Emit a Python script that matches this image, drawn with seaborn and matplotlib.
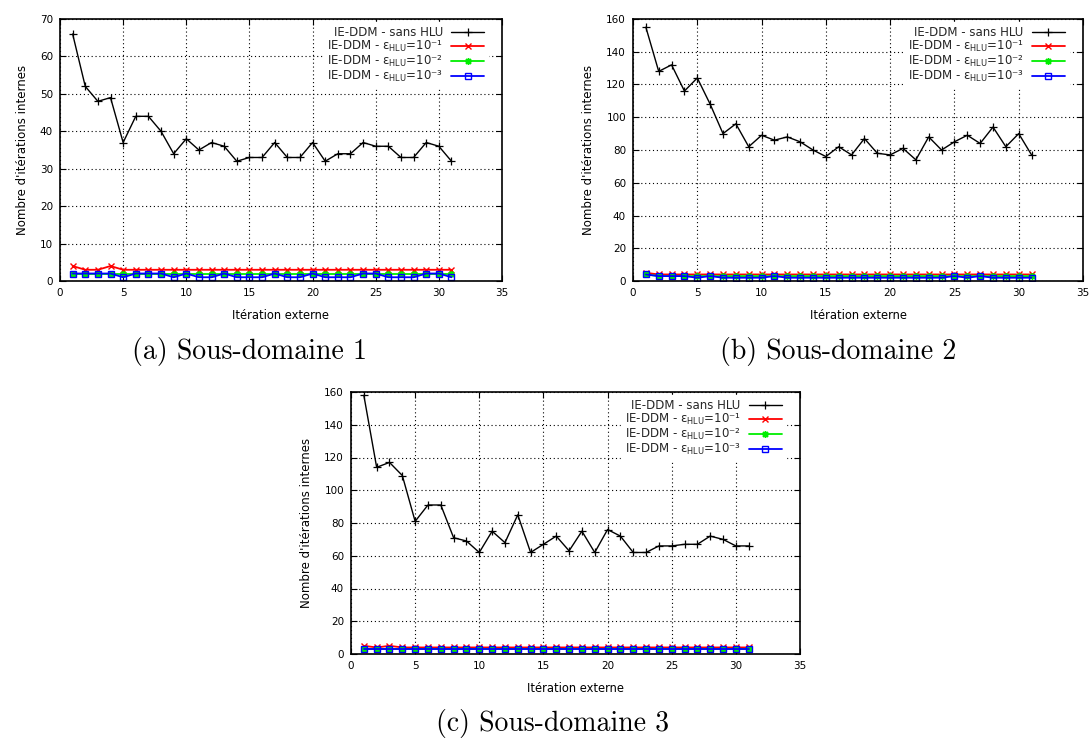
import matplotlib
matplotlib.use("Agg")
import matplotlib.pyplot as plt
import seaborn as sns

# ---------------- data ----------------
iterations = [1, 2, 3, 4, 5, 6, 7, 8, 9, 10, 11, 12, 13, 14, 15, 16,
              17, 18, 19, 20, 21, 22, 23, 24, 25, 26, 27, 28, 29, 30, 31]

sd1_sans = [66, 52, 48, 49, 37, 44, 44, 40, 34, 38, 35, 37, 36, 32, 33, 33,
            37, 33, 33, 37, 32, 34, 34, 37, 36, 36, 33, 33, 37, 36, 32]
sd1_e1 = [4, 3, 3, 4, 3, 3, 3, 3, 3, 3, 3, 3, 3, 3, 3, 3,
          3, 3, 3, 3, 3, 3, 3, 3, 3, 3, 3, 3, 3, 3, 3]
sd1_e2 = [2, 2, 2, 2, 2, 2, 2, 2, 2, 2, 2, 2, 2, 2, 2, 2,
          2, 2, 2, 2, 2, 2, 2, 2, 2, 2, 2, 2, 2, 2, 2]
sd1_e3 = [2, 2, 2, 2, 1, 2, 2, 2, 1, 2, 1, 1, 2, 1, 1, 1,
          2, 1, 1, 2, 1, 1, 1, 2, 2, 1, 1, 1, 2, 2, 1]

sd2_sans = [155, 128, 132, 116, 124, 108, 90, 96, 82, 89, 86, 88, 85, 80, 76, 82,
            77, 87, 78, 77, 81, 74, 88, 80, 85, 89, 84, 94, 82, 90, 77]
sd2_e1 = [5, 4, 4, 4, 4, 4, 4, 4, 4, 4, 4, 4, 4, 4, 4, 4,
          4, 4, 4, 4, 4, 4, 4, 4, 4, 4, 4, 4, 4, 4, 4]
sd2_e2 = [4, 3, 3, 3, 3, 3, 3, 3, 3, 3, 3, 3, 3, 3, 3, 3,
          3, 3, 3, 3, 3, 3, 3, 3, 3, 3, 3, 3, 3, 3, 3]
sd2_e3 = [4, 3, 3, 3, 2, 3, 2, 2, 2, 2, 3, 2, 2, 2, 2, 2,
          2, 2, 2, 2, 2, 2, 2, 2, 3, 2, 3, 2, 2, 2, 2]

sd3_sans = [158, 114, 117, 109, 81, 91, 91, 71, 69, 62, 75, 68, 85, 62, 67, 72,
            63, 75, 62, 76, 72, 62, 62, 66, 66, 67, 67, 72, 70, 66, 66]
sd3_e1 = [5, 4, 5, 4, 4, 4, 4, 4, 4, 4, 4, 4, 4, 4, 4, 4,
          4, 4, 4, 4, 4, 4, 4, 4, 4, 4, 4, 4, 4, 4, 4]
sd3_e2 = [3, 3, 3, 3, 3, 3, 3, 3, 3, 3, 3, 3, 3, 3, 3, 3,
          3, 3, 3, 3, 3, 3, 3, 3, 3, 3, 3, 3, 3, 3, 3]
sd3_e3 = [3, 3, 3, 3, 3, 3, 3, 3, 3, 3, 3, 3, 3, 3, 3, 3,
          3, 3, 3, 3, 3, 3, 3, 3, 3, 3, 3, 3, 3, 3, 3]

series_labels = [
    "IE-DDM - sans HLU",
    r"IE-DDM - ε$_{\mathrm{HLU}}$=10⁻¹",
    r"IE-DDM - ε$_{\mathrm{HLU}}$=10⁻²",
    r"IE-DDM - ε$_{\mathrm{HLU}}$=10⁻³",
]
captions = ["(a) Sous-domaine 1", "(b) Sous-domaine 2", "(c) Sous-domaine 3"]
x_label = "Itération externe"
y_label = "Nombre d'itérations internes"
x_ticks = [0, 5, 10, 15, 20, 25, 30, 35]
y_ticks_1 = [0, 10, 20, 30, 40, 50, 60, 70]
y_ticks_23 = [0, 20, 40, 60, 80, 100, 120, 140, 160]

# ---------------- style ----------------
sns.set_theme(style="white")
plt.rcParams["font.family"] = ["DejaVu Sans"]
plt.rcParams["mathtext.fontset"] = "dejavusans"

W, H = 1091, 740
fig = plt.figure(figsize=(W / 100, H / 100), dpi=100)
fig.patch.set_facecolor("white")


def px_axes(left, top, right, bottom):
    return fig.add_axes([left / W, 1 - bottom / H, (right - left) / W, (bottom - top) / H])


styles = [
    dict(color="black", marker="+", markersize=5.5, markeredgewidth=0.9, linewidth=1.0),
    dict(color="#ff0000", marker="x", markersize=4.5, markeredgewidth=1.0, linewidth=1.3),
    dict(color="#00ee00", marker=(8, 2, 0), markersize=5, markeredgewidth=1.0, linewidth=1.3),
    dict(color="#0000ff", marker="s", markersize=4.5, markeredgewidth=1.0, linewidth=1.3,
         markerfacecolor="none"),
]

panels = [
    dict(box=(60, 19, 502, 281), data=[sd1_sans, sd1_e1, sd1_e2, sd1_e3],
         yticks=y_ticks_1, cap_x=250, cap_y=352),
    dict(box=(633, 19, 1083, 281), data=[sd2_sans, sd2_e1, sd2_e2, sd2_e3],
         yticks=y_ticks_23, cap_x=838, cap_y=352),
    dict(box=(351, 392, 800, 654), data=[sd3_sans, sd3_e1, sd3_e2, sd3_e3],
         yticks=y_ticks_23, cap_x=553, cap_y=724),
]

for p, cap in zip(panels, captions):
    ax = px_axes(*p["box"])
    ax.set_facecolor("white")
    for vals, lab, st in zip(p["data"], series_labels, styles):
        kw = dict(st)
        kw.setdefault("markerfacecolor", kw["color"])
        sns.lineplot(x=iterations, y=vals, ax=ax, label=lab,
                     markeredgecolor=kw["color"], **kw)
    ax.set_xlim(x_ticks[0], x_ticks[-1])
    ax.set_ylim(p["yticks"][0], p["yticks"][-1])
    ax.set_xticks(x_ticks)
    ax.set_yticks(p["yticks"])
    ax.grid(True, color="black", linestyle=(0, (1, 2.5)), linewidth=0.8)
    ax.set_axisbelow(True)
    for s in ax.spines.values():
        s.set_visible(True)
        s.set_color("black")
        s.set_linewidth(1.2)
    ax.tick_params(axis="both", which="major", direction="in", length=4, width=0.8,
                   top=True, right=True, bottom=True, left=True,
                   labelsize=7.5, colors="black", pad=5)
    ax.set_xlabel(x_label, fontsize=8.3, labelpad=8, color="black")
    ax.set_ylabel(y_label, fontsize=8.5, labelpad=8, color="black")
    leg = ax.legend(loc="upper right", bbox_to_anchor=(1 - 8 / 450, 1 + 3 / 262),
                    markerfirst=False, fontsize=8.5, handlelength=2.8,
                    handletextpad=0.7, labelspacing=0.0, borderpad=0.35,
                    frameon=True, fancybox=False, framealpha=1.0,
                    facecolor="white", edgecolor="white")
    leg.set_zorder(5)
    fig.text(p["cap_x"] / W, 1 - p["cap_y"] / H, cap, family="cmr10", fontsize=20,
             ha="center", va="center", color="black")

fig.savefig("out.png", dpi=100, facecolor="white")
